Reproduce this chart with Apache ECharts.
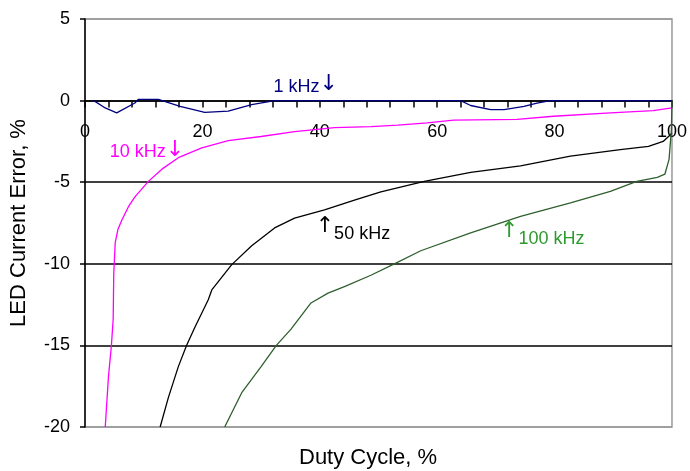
<!DOCTYPE html>
<html><head><meta charset="utf-8">
<script src="https://cdn.jsdelivr.net/npm/echarts@6/dist/echarts.min.js"></script>
<style>html,body{margin:0;padding:0;background:#fff}#c{width:690px;height:471px}</style>
</head><body><div id="c"></div>
<script>
const xTicks = [0, 20, 40, 60, 80, 100];
const yTicks = [-20, -15, -10, -5, 0, 5];
const s1k = [[1.5,0],[3.45,-0.45],[5.4,-0.75],[8.5,-0.15],[9.1,0.08],[12.5,0.08],[16.2,-0.35],[20.4,-0.72],[24.4,-0.65],[28.4,-0.25],[32.3,0],[64,0],[65.7,-0.3],[69.1,-0.55],[71.4,-0.55],[74.8,-0.35],[77,-0.15],[79.3,0],[100,0]];
const s10k = [[3.45,-20],[4.0,-16.9],[4.5,-15],[4.8,-13.4],[4.9,-10.6],[5.15,-8.7],[5.6,-7.9],[6.3,-7.3],[7.4,-6.5],[8.5,-5.9],[10.8,-4.95],[13.1,-4.2],[15.9,-3.5],[19.9,-2.9],[24.4,-2.45],[30,-2.2],[35.7,-1.9],[42.5,-1.65],[48.7,-1.6],[53.3,-1.5],[58.3,-1.37],[62.8,-1.2],[73.6,-1.15],[79.8,-0.96],[89.5,-0.75],[96.8,-0.62],[100,-0.45]];
const s50k = [[12.8,-20],[14.2,-18.2],[15.9,-16.3],[17.3,-15],[18.7,-13.9],[21,-12.2],[21.6,-11.6],[25,-10.05],[28.4,-8.9],[32.3,-7.8],[35.7,-7.2],[40.8,-6.7],[45.9,-6.1],[50.4,-5.6],[57.8,-4.95],[65.7,-4.4],[74.2,-4.0],[82.7,-3.4],[91.2,-3.0],[96,-2.8],[98.5,-2.5],[100,-2.0]];
const s100k = [[23.8,-20],[26.7,-17.9],[30,-16.3],[32.6,-15],[35.1,-14],[38.5,-12.4],[41.4,-11.8],[44.2,-11.4],[48.7,-10.7],[52.7,-10],[57.2,-9.2],[65.7,-8.1],[74.2,-7.1],[82.7,-6.27],[89.5,-5.56],[94,-4.95],[97.5,-4.7],[98.8,-4.5],[99.5,-3.6],[99.9,-1.8],[100,0]];
const seriesNames = ['1 kHz', '10 kHz', '50 kHz', '100 kHz'];
const annLabel = ['1 kHz', '10 kHz', '50 kHz', '100 kHz'];
const annArrowAfter = [true, true, false, false];
const annPos = [[32.1, 1.1], [4.2, -2.9], [39.3, -7.9], [70.7, -8.2]];

const FONT = '"Liberation Sans", Arial, sans-serif';
const lineColors = ['#000080', '#ff00ff', '#000000', '#2f5f2f'];
const textColors = ['#000080', '#ff00ff', '#000000', '#2e9a2e'];
const datasets = [s1k, s10k, s50k, s100k];

const G = {left: 83, right: 17, top: 19, bottom: 44};
const H = 471 - G.top - G.bottom;
const yMin = -20, yMax = 5;
const zeroOffset = -H * (0 - yMin) / (yMax - yMin);

const chart = echarts.init(document.getElementById('c'), null, {renderer: 'canvas'});
chart.setOption({
  animation: false,
  backgroundColor: '#fff',
  grid: Object.assign({show: true, borderColor: '#999', borderWidth: 1.5}, G),
  xAxis: {
    type: 'value', min: 0, max: 100, interval: 4, offset: zeroOffset,
    axisLine: {onZero: false, lineStyle: {color: '#000', width: 1.5}},
    axisTick: {show: true, length: 7, lineStyle: {color: '#000', width: 1.5}},
    axisLabel: {
      color: '#000', fontSize: 18, fontFamily: FONT, margin: 22,
      formatter: v => (xTicks.indexOf(v) >= 0 ? String(v) : '')
    },
    splitLine: {show: false}
  },
  yAxis: {
    type: 'value', min: yMin, max: yMax, interval: 5,
    name: 'LED Current Error, %', nameLocation: 'middle', nameGap: 55,
    nameTextStyle: {color: '#000', fontSize: 22, fontFamily: FONT},
    axisLine: {onZero: false, lineStyle: {color: '#000', width: 1.5}},
    axisTick: {show: true, length: 5, lineStyle: {color: '#000', width: 1.5}},
    axisLabel: {color: '#000', fontSize: 18, fontFamily: FONT, margin: 15,
      formatter: v => (yTicks.indexOf(v) >= 0 ? String(v) : '')},
    splitLine: {show: true, lineStyle: {color: ['#999', '#000', '#000', '#000', '#000', '#999'], width: 1.5}}
  },
  graphic: [{
    type: 'text', left: 299, top: 447,
    style: {text: 'Duty Cycle, %', font: '22px ' + FONT, fill: '#000'}
  }],
  series: datasets.map((d, i) => ({
    name: seriesNames[i], type: 'line', data: d, showSymbol: false, symbol: 'none',
    lineStyle: {color: lineColors[i], width: 1.3}, z: 3 + (i === 0 ? 1 : 0),
    markPoint: {
      symbol: 'circle', symbolSize: 0, silent: true,
      data: [{coord: annPos[i]}],
      label: {show: true, position: 'right', distance: 0,
        formatter: annArrowAfter[i] ? '{t|' + annLabel[i] + '}{a|\u2193}' : '{a|\u2191}{t|' + annLabel[i] + '}',
        rich: {
          t: {color: textColors[i], fontSize: 18, fontFamily: FONT, verticalAlign: 'bottom'},
          a: {color: textColors[i], fontSize: 22, fontFamily: '"DejaVu Sans", sans-serif',
              padding: annArrowAfter[i] ? [4, 0, 0, 0] : [0, 0, 6, 0]}
        }
      }
    }
  }))
});
</script></body></html>
